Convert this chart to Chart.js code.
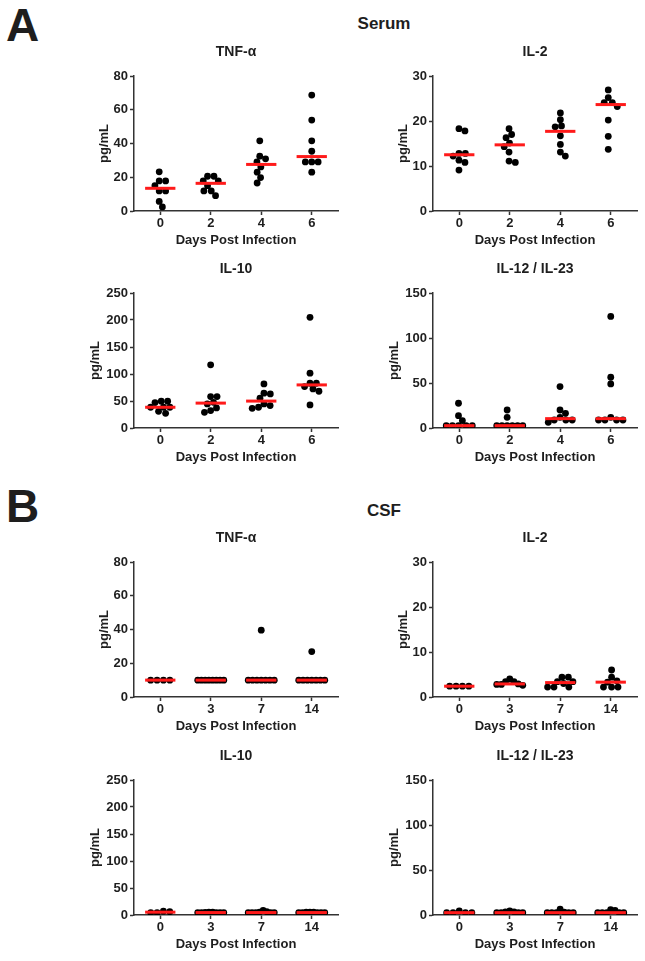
<!DOCTYPE html>
<html>
<head>
<meta charset="utf-8">
<script src="https://cdn.jsdelivr.net/npm/chart.js@4.4.1/dist/chart.umd.min.js"></script>
<style>
  html, body { margin: 0; padding: 0; background: #fff; }
  body {
    position: relative; width: 645px; height: 961px; overflow: hidden;
    font-family: "Liberation Sans", Arial, sans-serif; color: #1e1e1e;
  }
  .letter  { position: absolute; left: 6px; font-size: 46px; font-weight: bold; line-height: 1; }
  .heading { position: absolute; font-size: 17px; font-weight: bold; white-space: nowrap; transform: translate(-50%, -50%); }
  canvas   { position: absolute; }
</style>
</head>
<body>
<div class="letter" style="top:2px">A</div>
<div class="heading" style="left:384px;top:24px">Serum</div>
<div class="letter" style="top:483px">B</div>
<div class="heading" style="left:384px;top:511px">CSF</div>

<script>
const SERUM_DAYS = ['0', '2', '4', '6'];
const CSF_DAYS   = ['0', '3', '7', '14'];

// pg/mL, one inner array per day
const serumTnf = [
  [23.2, 17.8, 17.8, 15.0, 11.9, 11.9, 5.7, 2.4],
  [20.6, 20.6, 17.8, 17.8, 15.0, 11.9, 11.9, 9.1],
  [41.6, 32.5, 30.9, 29.1, 26.1, 23.0, 19.8, 16.6],
  [68.7, 53.9, 41.6, 35.4, 29.1, 29.1, 29.1, 23.0],
];
const serumIl2 = [
  [18.3, 17.8, 12.8, 12.8, 12.2, 11.3, 10.8, 9.1],
  [18.3, 17.0, 16.3, 15.1, 14.3, 13.1, 11.1, 10.8],
  [21.8, 20.3, 18.9, 18.7, 16.7, 14.8, 13.1, 12.2],
  [26.9, 25.2, 24.1, 24.1, 23.2, 20.2, 16.6, 13.7],
];
const serumIl10 = [
  [49.5, 49.5, 47.0, 38.4, 38.4, 38.4, 30.9, 27.2],
  [117, 58.2, 58.2, 47.6, 44.6, 37.1, 32.2, 29.1],
  [81.7, 64.4, 63.1, 55.1, 44.6, 41.5, 38.4, 36.5],
  [205, 101.5, 82.9, 82.9, 76.7, 72.4, 68.1, 42.7],
];
const serumIl12 = [
  [27.5, 13.7, 8.2, 2.6, 2.6, 2.6, 2.6, 2.6],
  [20.0, 11.9, 2.6, 2.6, 2.6, 2.6, 2.6, 2.6],
  [46.0, 20.0, 16.3, 11.9, 8.9, 8.9, 8.9, 6.3],
  [124, 56.4, 49.0, 11.9, 8.9, 8.9, 8.9, 8.9],
];

const csfTnf = [
  [10, 10, 10, 10],
  [10, 10, 10, 10, 10, 10, 10, 10],
  [39.6, 10, 10, 10, 10, 10, 10, 10],
  [26.9, 10, 10, 10, 10, 10, 10, 10],
];
const csfIl2 = [
  [2.4, 2.4, 2.4, 2.4],
  [4.0, 3.4, 3.4, 2.9, 2.8, 2.8, 2.6],
  [4.4, 4.4, 3.4, 3.4, 3.0, 2.2, 2.2, 2.2],
  [6.0, 4.4, 3.6, 3.3, 2.2, 2.2, 2.2],
];
const csfIl10 = [
  [6.0, 4.5, 4.5, 7.0],
  [5.5, 5.5, 4.5, 4.5, 4.5, 4.5, 4.5, 5.0],
  [8.5, 6.0, 5.5, 4.5, 4.5, 4.5, 4.5, 4.5],
  [5.5, 5.5, 5.5, 4.5, 4.5, 4.5, 4.5, 4.5],
];
const csfIl12 = [
  [2.6, 2.6, 2.6, 2.6, 4.5],
  [2.6, 2.6, 2.6, 3.5, 4.5, 3.5, 2.6],
  [2.6, 2.6, 2.6, 2.6, 6.5, 3.2, 2.6],
  [6.0, 2.6, 2.6, 2.6, 2.6, 2.6, 5.0],
];

// Layout
const PLOT_W = 204, PLOT_H = 135;
const X_H = 41, TOP_H = 36, PAD_R = 8;
const X_MIN = -0.52, X_MAX = 3.52;
const DOT_R = 3.4, SPREAD = 13, BAR_HALF = 0.3;
const AXIS = '#333';
const FONT = '"Liberation Sans", Arial, sans-serif';

const panels = [
  { title: 'TNF-α',         days: SERUM_DAYS, groups: serumTnf,  yMax: 80,  step: 20, left: 134, top: 76 },
  { title: 'IL-2',          days: SERUM_DAYS, groups: serumIl2,  yMax: 30,  step: 10, left: 433, top: 76 },
  { title: 'IL-10',         days: SERUM_DAYS, groups: serumIl10, yMax: 250, step: 50, left: 134, top: 293 },
  { title: 'IL-12 / IL-23', days: SERUM_DAYS, groups: serumIl12, yMax: 150, step: 50, left: 433, top: 293 },
  { title: 'TNF-α',         days: CSF_DAYS,   groups: csfTnf,    yMax: 80,  step: 20, left: 134, top: 562 },
  { title: 'IL-2',          days: CSF_DAYS,   groups: csfIl2,    yMax: 30,  step: 10, left: 433, top: 562 },
  { title: 'IL-10',         days: CSF_DAYS,   groups: csfIl10,   yMax: 250, step: 50, left: 134, top: 780 },
  { title: 'IL-12 / IL-23', days: CSF_DAYS,   groups: csfIl12,   yMax: 150, step: 50, left: 433, top: 780 },
];

Chart.defaults.font.family = FONT;
Chart.defaults.font.weight = 'bold';
Chart.defaults.color = '#1e1e1e';

function median(vals) {
  const s = [...vals].sort((a, b) => a - b);
  const m = s.length >> 1;
  return s.length % 2 ? s[m] : (s[m - 1] + s[m]) / 2;
}

// Column scatter: push overlapping dots sideways, then squeeze wide rows
function swarm(vals, yMax) {
  const ky = PLOT_H / yMax, d = DOT_R * 2 - 0.4;
  const placed = [];
  const order = vals.map((_, i) => i).sort((a, b) => vals[b] - vals[a]);
  order.forEach(i => {
    const y = vals[i] * ky;
    const cands = [0];
    placed.forEach(p => {
      const dy = Math.abs(p.y - y);
      if (dy < d) {
        const dx = Math.sqrt(d * d - dy * dy);
        cands.push(p.x + dx, p.x - dx);
      }
    });
    cands.sort((a, b) => Math.abs(a) - Math.abs(b));
    const x = cands.find(c => placed.every(p => Math.hypot(p.x - c, p.y - y) >= d - 0.01));
    placed.push({ i, x, y });
  });
  const xs = placed.map(p => p.x);
  const mid = (Math.max(...xs) + Math.min(...xs)) / 2;
  const wide = Math.max(...xs.map(x => Math.abs(x - mid)));
  const k = wide > SPREAD ? SPREAD / wide : 1;
  const px = PLOT_W / (X_MAX - X_MIN);
  const off = [];
  placed.forEach(p => { off[p.i] = (p.x - mid) * k / px; });
  return off;
}

panels.forEach(p => {
  // wider left box when tick labels have three digits
  const yW = p.yMax >= 100 ? 50 : 41;

  const cv = document.createElement('canvas');
  cv.width  = yW + PLOT_W + PAD_R;
  cv.height = TOP_H + PLOT_H + X_H;
  cv.style.left = (p.left - yW) + 'px';
  cv.style.top  = (p.top - TOP_H) + 'px';
  document.body.appendChild(cv);

  const points = [];
  p.groups.forEach((vals, g) => {
    const off = swarm(vals, p.yMax);
    vals.forEach((v, j) => points.push({ x: g + off[j], y: v }));
  });

  const medians = p.groups.map((vals, g) => {
    const m = median(vals);
    return {
      data: [{ x: g - BAR_HALF, y: m }, { x: g + BAR_HALF, y: m }],
      showLine: true,
      borderColor: '#ff1a1a',
      borderWidth: 3,
      borderCapStyle: 'butt',
      pointRadius: 0,
      order: 1,
    };
  });

  new Chart(cv, {
    type: 'scatter',
    data: {
      datasets: [
        { data: points, pointRadius: DOT_R, pointBackgroundColor: '#000', pointBorderWidth: 0, order: 2 },
        ...medians,
      ]
    },
    options: {
      responsive: false,
      animation: false,
      events: [],
      layout: { padding: { left: 0, right: PAD_R, top: 0, bottom: 0 } },
      plugins: {
        legend: { display: false },
        tooltip: { enabled: false },
        title: {
          display: true,
          text: p.title,
          fullSize: false,
          font: { size: 14, weight: 'bold' },
          padding: { top: 4, bottom: 15.2 },
        },
      },
      scales: {
        x: {
          type: 'linear',
          min: X_MIN,
          max: X_MAX,
          afterBuildTicks: s => { s.ticks = p.days.map((_, i) => ({ value: i })); },
          afterFit: s => { s.height = X_H; },
          ticks: { callback: v => p.days[v], font: { size: 13, weight: 'bold' }, padding: 1, maxRotation: 0, autoSkip: false },
          grid: { display: true, drawOnChartArea: false, tickLength: 4, tickWidth: 1.5, tickColor: AXIS },
          border: { display: true, color: AXIS, width: 1.5 },
          title: { display: true, text: 'Days Post Infection', font: { size: 13, weight: 'bold' }, padding: { top: 0, bottom: 4 } },
        },
        y: {
          min: 0,
          max: p.yMax,
          afterFit: s => { s.width = yW; },
          ticks: { stepSize: p.step, font: { size: 13, weight: 'bold' }, padding: 2 },
          grid: { display: true, drawOnChartArea: false, tickLength: 4, tickWidth: 1.5, tickColor: AXIS },
          border: { display: true, color: AXIS, width: 1.5 },
          title: { display: true, text: 'pg/mL', font: { size: 13, weight: 'bold' }, padding: { top: 4, bottom: 4 } },
        },
      },
    },
  });
});
</script>
</body>
</html>
